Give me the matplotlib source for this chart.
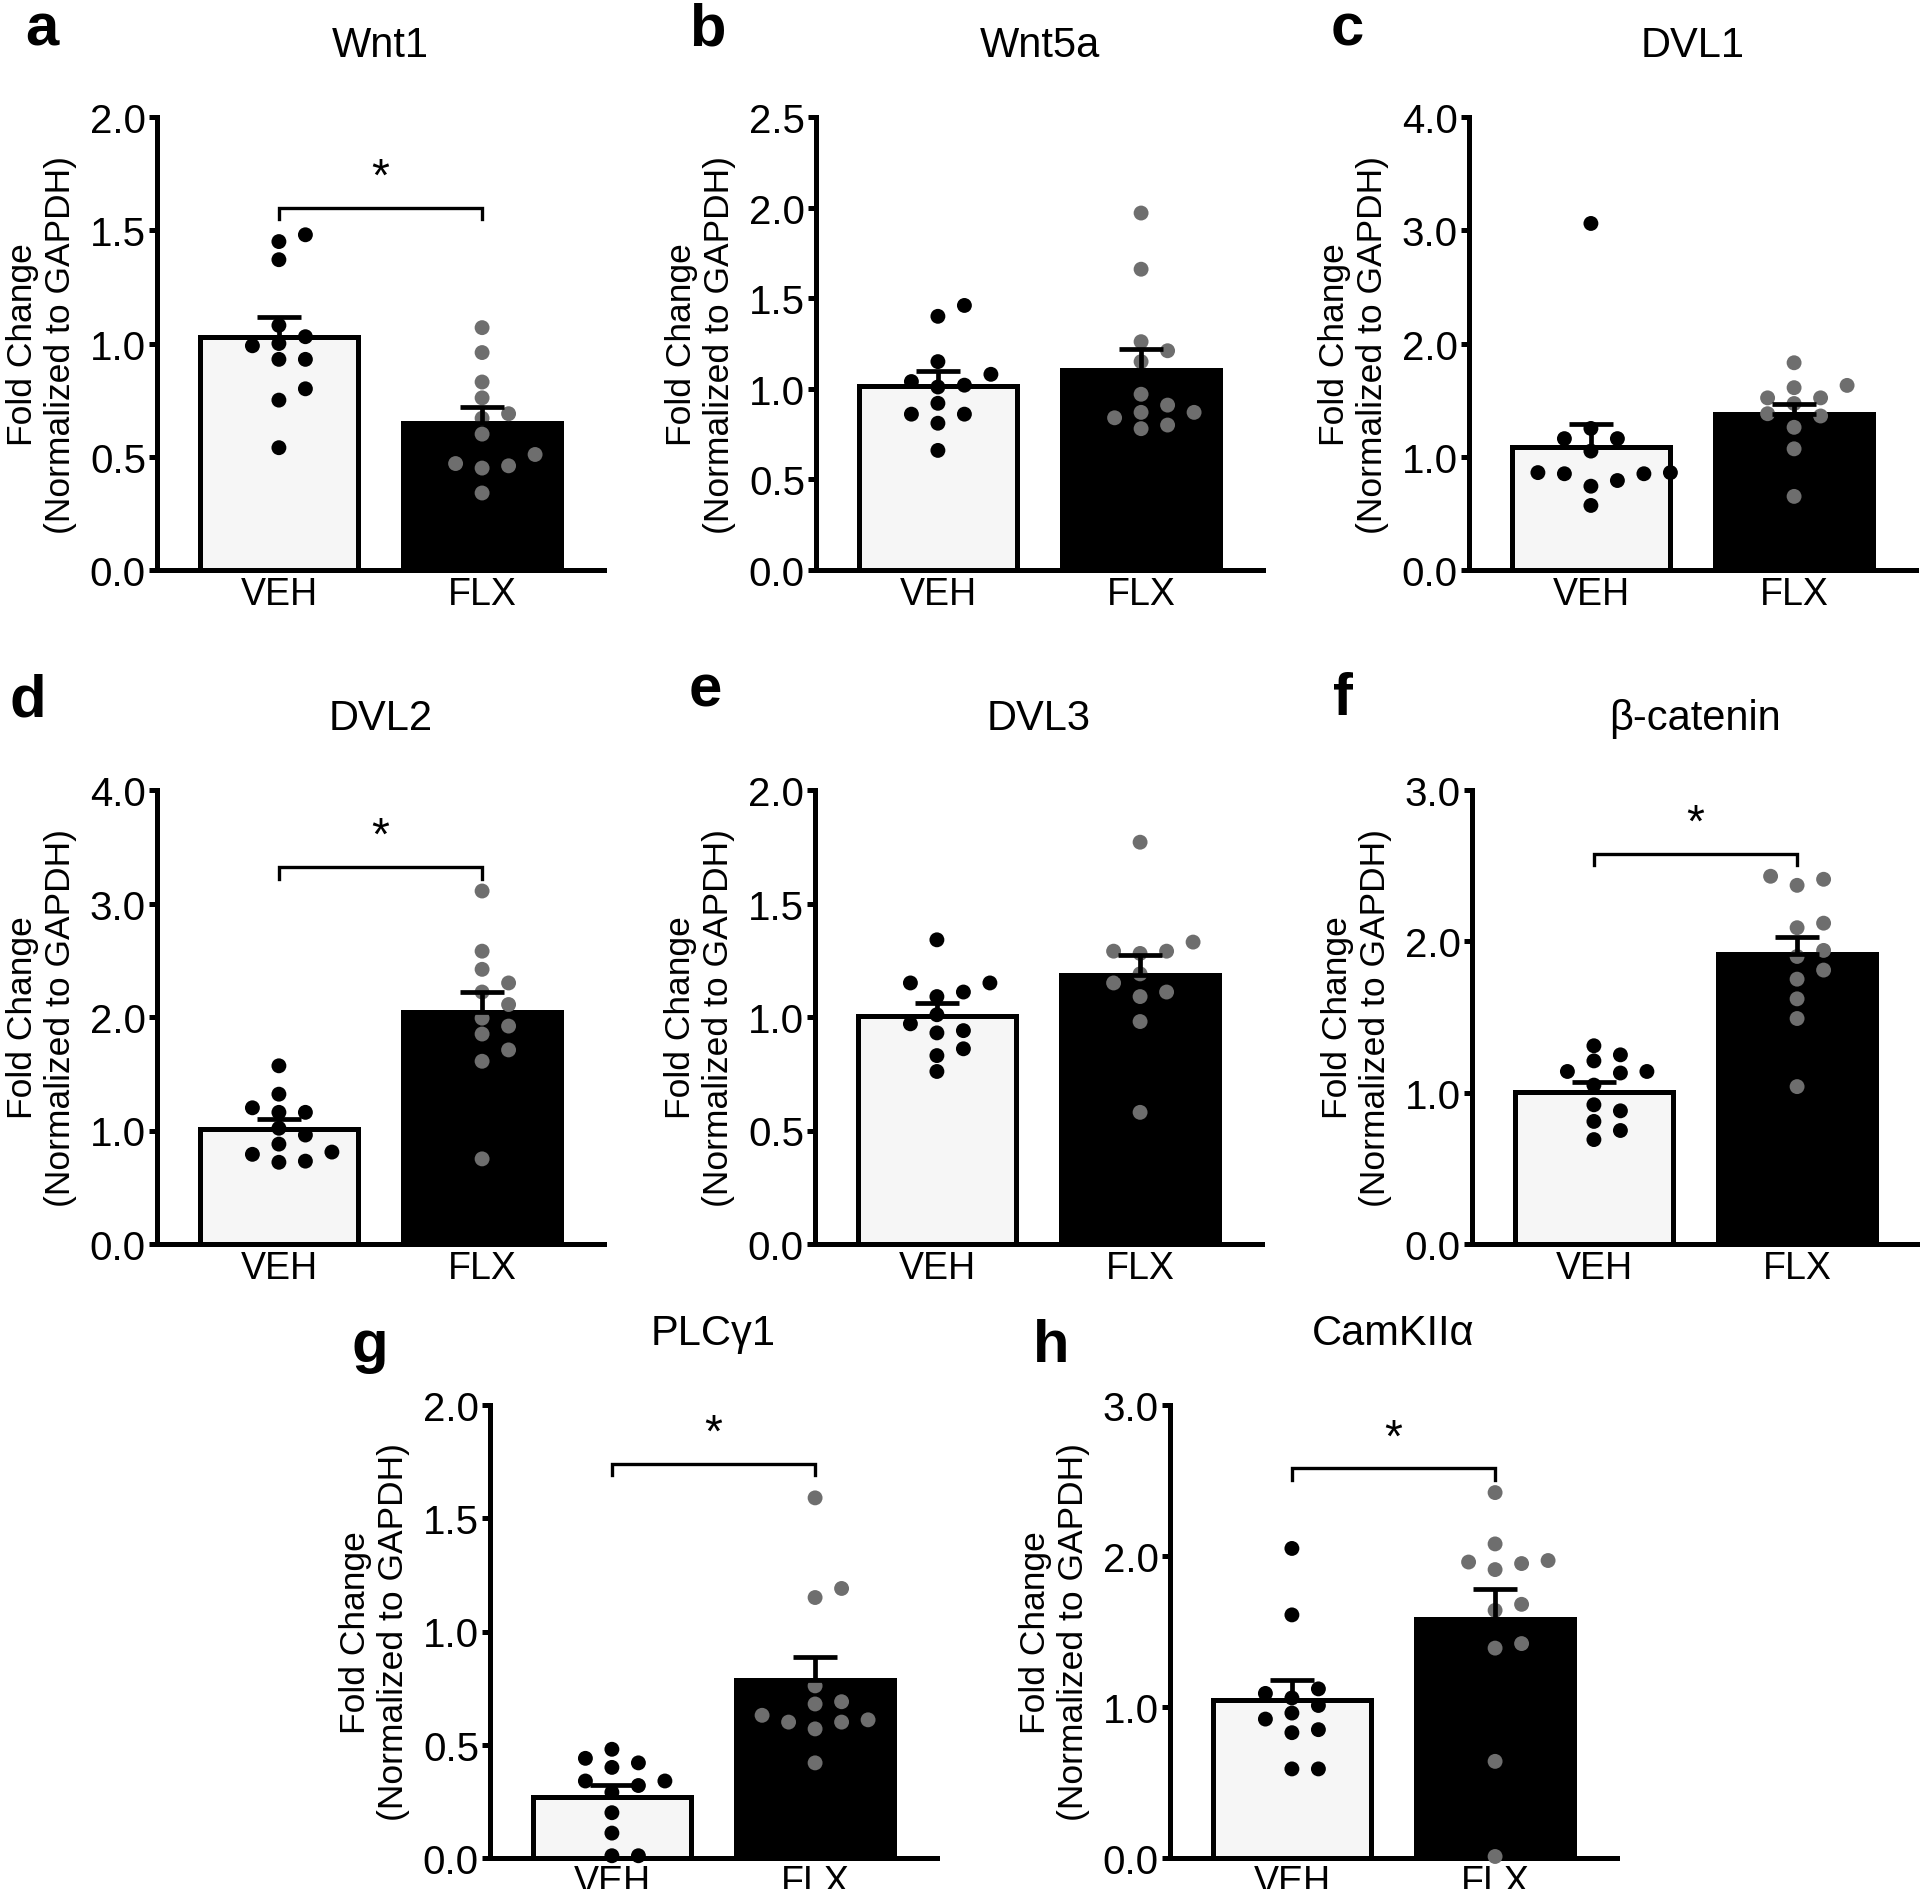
import numpy as np
import matplotlib
matplotlib.use('Agg')
import matplotlib.pyplot as plt

plt.rcParams['font.family'] = ['Liberation Sans', 'DejaVu Sans']

# ---- data (fold change, normalized to GAPDH) ----
groups = ['VEH', 'FLX']
genes = ['Wnt1', 'Wnt5a', 'DVL1', 'DVL2', 'DVL3', 'β-catenin', 'PLCγ1', 'CamKIIα']
letters = ['a', 'b', 'c', 'd', 'e', 'f', 'g', 'h']
y_max = [2.0, 2.5, 4.0, 4.0, 2.0, 3.0, 2.0, 3.0]
y_step = [0.5, 0.5, 1.0, 1.0, 0.5, 1.0, 0.5, 1.0]

veh_wnt1 = [1.48, 1.45, 1.37, 1.08, 1.03, 1.00, 0.99, 0.93, 0.93, 0.80, 0.75, 0.54]
flx_wnt1 = [1.07, 0.96, 0.83, 0.76, 0.69, 0.67, 0.60, 0.51, 0.47, 0.46, 0.45, 0.34]
veh_wnt5a = [1.46, 1.40, 1.15, 1.08, 1.04, 1.02, 1.01, 0.92, 0.86, 0.86, 0.81, 0.66]
flx_wnt5a = [1.97, 1.66, 1.26, 1.21, 1.15, 0.97, 0.91, 0.87, 0.87, 0.84, 0.80, 0.78]
veh_dvl1 = [3.06, 1.25, 1.16, 1.16, 1.05, 0.85, 0.86, 0.86, 0.85, 0.79, 0.74, 0.57]
flx_dvl1 = [1.83, 1.63, 1.61, 1.52, 1.52, 1.47, 1.38, 1.36, 1.26, 1.07, 0.65]
veh_dvl2 = [1.57, 1.32, 1.20, 1.16, 1.16, 1.02, 0.96, 0.88, 0.81, 0.79, 0.73, 0.72]
flx_dvl2 = [3.11, 2.58, 2.42, 2.30, 2.22, 2.11, 1.99, 1.92, 1.85, 1.71, 1.61, 0.75]
veh_dvl3 = [1.34, 1.15, 1.15, 1.11, 1.09, 1.01, 0.97, 0.94, 0.93, 0.86, 0.83, 0.76]
flx_dvl3 = [1.77, 1.33, 1.29, 1.29, 1.28, 1.19, 1.15, 1.11, 1.09, 0.98, 0.58]
veh_bcat = [1.31, 1.25, 1.21, 1.14, 1.14, 1.13, 1.05, 0.92, 0.88, 0.81, 0.75, 0.69]
flx_bcat = [2.43, 2.41, 2.37, 2.12, 2.09, 1.94, 1.90, 1.81, 1.75, 1.62, 1.49, 1.04]
veh_plcg1 = [0.48, 0.44, 0.42, 0.40, 0.34, 0.34, 0.32, 0.29, 0.20, 0.11, 0.01, 0.01]
flx_plcg1 = [1.59, 1.19, 1.15, 0.76, 0.69, 0.68, 0.63, 0.61, 0.60, 0.60, 0.57, 0.42]
veh_camk = [2.05, 1.61, 1.12, 1.09, 1.06, 1.01, 0.96, 0.92, 0.85, 0.83, 0.59, 0.59]
flx_camk = [2.42, 2.08, 1.95, 1.96, 1.91, 1.97, 1.68, 1.64, 1.42, 1.39, 0.64, 0.01]

veh_points = [veh_wnt1, veh_wnt5a, veh_dvl1, veh_dvl2, veh_dvl3, veh_bcat, veh_plcg1, veh_camk]
flx_points = [flx_wnt1, flx_wnt5a, flx_dvl1, flx_dvl2, flx_dvl3, flx_bcat, flx_plcg1, flx_camk]

veh_mean = [1.027, 1.016, 1.090, 1.009, 1.006, 1.003, 0.270, 1.046]
veh_sem = [0.090, 0.083, 0.199, 0.090, 0.054, 0.068, 0.054, 0.135]
flx_mean = [0.649, 1.105, 1.379, 2.047, 1.186, 1.913, 0.787, 1.582]
flx_sem = [0.072, 0.117, 0.090, 0.170, 0.086, 0.116, 0.099, 0.197]

# height of the significance bracket (None = not significant)
sig_height = [1.60, None, None, 3.32, None, 2.58, 1.74, 2.58]

# ---- layout (pixels, measured from top-left of a 1920x1890 canvas) ----
W, H = 1920, 1890
ax_left = [157, 816, 1469, 157, 815, 1472, 490, 1170]
ax_top = [118, 118, 118, 791, 791, 791, 1406, 1406]
ax_bottom = [571, 571, 571, 1245, 1245, 1245, 1859, 1859]
ax_width = 447
letter_xy = [(25, 45), (689, 45), (1331, 45), (10, 717),
             (689, 707), (1333, 715), (351, 1362), (1033, 1362)]

veh_face = '#f6f6f6'
flx_dot = '#6e6e6e'
lw = 3.6


def swarm_offsets(ax, values, step_px=26.5, min_px=14.0):
    # simple beeswarm: stack points into columns so they don't overlap
    bb = ax.get_window_extent()
    x0, x1 = ax.get_xlim()
    y0, y1 = ax.get_ylim()
    px_x = bb.width / (x1 - x0)
    px_y = bb.height / (y1 - y0)
    values = np.asarray(values)
    offs = np.zeros(len(values))
    cols = {}
    for i in np.argsort(values):
        ypx = values[i] * px_y
        for k in [0, 1, -1, 2, -2, 3, -3]:
            if all(abs(ypx - o) >= min_px for o in cols.get(k, [])):
                cols.setdefault(k, []).append(ypx)
                offs[i] = k * step_px / px_x
                break
    return offs


fig = plt.figure(figsize=(W / 100, H / 100), dpi=100)

for i in range(8):
    rect = [ax_left[i] / W, 1 - ax_bottom[i] / H, ax_width / W,
            (ax_bottom[i] - ax_top[i]) / H]
    ax = fig.add_axes(rect)
    ax.set_xlim(-0.6, 1.6)
    ax.set_ylim(0, y_max[i])

    ax.bar([0, 1], [veh_mean[i], flx_mean[i]], width=0.78,
           color=[veh_face, 'black'], edgecolor='black', linewidth=lw, zorder=1)

    for xpos, pts, col in [(0, veh_points[i], 'black'), (1, flx_points[i], flx_dot)]:
        offs = swarm_offsets(ax, pts)
        ax.scatter(xpos + offs, pts, s=115, color=col, edgecolors='none',
                   zorder=3, clip_on=False)

    for xpos, m, s in [(0, veh_mean[i], veh_sem[i]), (1, flx_mean[i], flx_sem[i])]:
        ax.errorbar(xpos, m, yerr=[[0], [s]], fmt='none', ecolor='black',
                    elinewidth=3.4, capsize=16, capthick=3.4, zorder=4)

    if sig_height[i] is not None:
        h = sig_height[i]
        drop = 0.025 * y_max[i]
        ax.plot([0, 0, 1, 1], [h - drop, h, h, h - drop], color='black',
                lw=2.4, solid_joinstyle='miter', zorder=5)
        ax.text(0.5, h + 0.018 * y_max[i], '*', ha='center', va='bottom',
                fontsize=33)

    ticks = np.arange(0, y_max[i] + 1e-9, y_step[i])
    ax.set_yticks(ticks)
    ax.set_yticklabels([f'{v:.1f}' for v in ticks])
    ax.set_xticks([0, 1])
    ax.set_xticklabels(groups)
    ax.tick_params(axis='y', labelsize=29, length=6, width=lw, pad=2)
    ax.tick_params(axis='x', labelsize=27, length=0, pad=4)

    for side in ['top', 'right']:
        ax.spines[side].set_visible(False)
    for side in ['left', 'bottom']:
        ax.spines[side].set_linewidth(lw)

    ax.set_ylabel('Fold Change\n(Normalized to GAPDH)', fontsize=25.5, labelpad=9)
    ax.set_title(genes[i], fontsize=30, pad=44)

    lx, ly = letter_xy[i]
    fig.text(lx / W, 1 - ly / H, letters[i], fontsize=43, fontweight='bold',
             ha='left', va='baseline')

fig.savefig('out.png', dpi=100)
